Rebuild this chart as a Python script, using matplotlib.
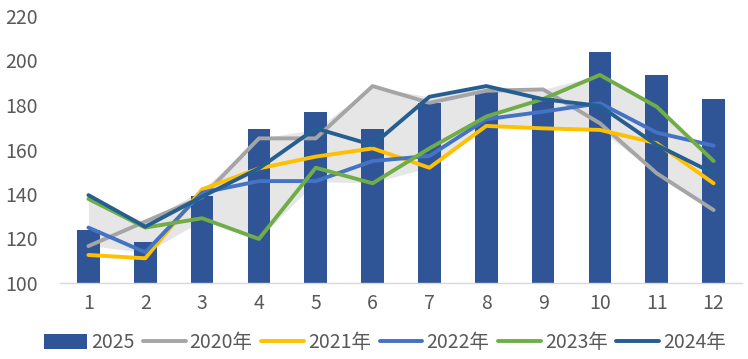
import matplotlib
matplotlib.use("Agg")
import matplotlib.pyplot as plt
from matplotlib.patches import Patch
from matplotlib.lines import Line2D

plt.rcParams['font.family'] = ['Noto Sans CJK SC', 'DejaVu Sans']

months = [1, 2, 3, 4, 5, 6, 7, 8, 9, 10, 11, 12]
month_labels = ["1", "2", "3", "4", "5", "6", "7", "8", "9", "10", "11", "12"]

bars_2025 = [124, 118.5, 139, 169, 177, 169, 181, 186, 183, 204, 193.5, 182.7]

s2020 = [116.6, 127.6, 138.6, 165, 165, 188.5, 181, 186.4, 187, 171.8, 149.3, 132.8]
s2021 = [112.6, 111.1, 142.1, 151.5, 156.8, 160.5, 151.8, 170.6, 169.5, 168.8, 162.8, 144.8]
s2022 = [124.9, 113.8, 140.6, 145.8, 145.8, 154.8, 157.1, 173.6, 177, 180.8, 167.6, 161.7]
s2023 = [137.8, 124.9, 129.1, 119.8, 151.8, 144.8, 160.5, 174.8, 182.7, 193.5, 179.2, 154.8]
s2024 = [139.5, 125.3, 138.8, 151.5, 169.5, 162, 183.7, 188.5, 182.6, 179.6, 162, 149.3]

band_low = [117, 113.5, 128, 120, 145.5, 145, 152, 170.5, 169.5, 168.8, 149.3, 132.8]
band_high = [138, 127.5, 141.8, 165, 169, 188.5, 183.5, 188.5, 187, 193.5, 179, 155]

series = [
    ("2020年", s2020, "#A5A5A5"),
    ("2021年", s2021, "#FFC000"),
    ("2022年", s2022, "#4472C4"),
    ("2023年", s2023, "#70AD47"),
    ("2024年", s2024, "#255E91"),
]

fig = plt.figure(figsize=(7.48, 3.59), dpi=100)
ax = fig.add_axes([60/748, 1-283/359, 682/748, 267/359])

ax.fill_between(months, band_low, band_high, color="#E7E6E6", lw=0, zorder=1)
ax.bar(months, [v - 100 for v in bars_2025], bottom=100, width=0.4, color="#2F5597", zorder=2)
for name, vals, col in series:
    ax.plot(months, vals, color=col, lw=2.8, zorder=3, solid_capstyle='round', solid_joinstyle='round')

ax.set_xlim(0.5, 12.5)
ax.set_ylim(100, 220)
ax.set_yticks(range(100, 221, 20))
ax.set_xticks(months)
ax.set_xticklabels(month_labels)
for s in ["top", "right", "left"]:
    ax.spines[s].set_visible(False)
ax.spines["bottom"].set_color("#D9D9D9")
ax.spines["bottom"].set_linewidth(1.0)
ax.tick_params(axis="both", length=0, labelsize=14, labelcolor="#595959")
ax.tick_params(axis="y", pad=16)
ax.tick_params(axis="x", pad=7)

handles = [Patch(facecolor="#2F5597", edgecolor="none", label="2025")]
for name, vals, col in series:
    handles.append(Line2D([0], [0], color=col, lw=2.8, label=name, solid_capstyle='round'))

fig.legend(handles=handles, loc="center", bbox_to_anchor=(385/748, 1-343/359), ncol=6,
           frameon=False, fontsize=14, labelcolor="#595959", handlelength=2.2,
           handletextpad=0.2, columnspacing=0.45, handleheight=0.8)

fig.savefig("out.png", dpi=100)
